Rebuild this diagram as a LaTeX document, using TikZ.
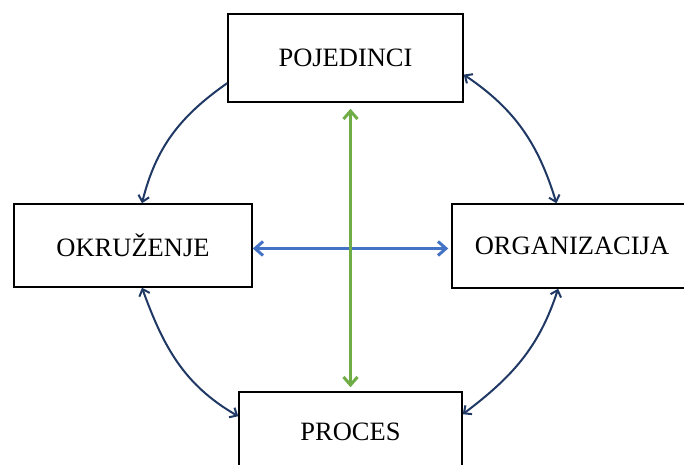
\documentclass[tikz,border=0pt]{standalone}
\usepackage{fontspec}
\setmainfont{Liberation Serif}
\usetikzlibrary{arrows.meta}
\definecolor{navy}{RGB}{31,56,100}
\definecolor{midblue}{RGB}{68,114,196}
\definecolor{leafgreen}{RGB}{112,173,71}
\tikzset{
    box/.style={draw, line width=1.5pt, inner sep=0pt},
    cyc/.style={navy, line width=2pt, >={Straight Barb[length=6pt,width=11pt]}},
    cross/.style={line width=3pt, >={Straight Barb[length=8pt,width=14pt]}},
}
\begin{document}
\begin{tikzpicture}[x=1pt,y=1pt,font=\fontsize{26.5}{30}\selectfont]
            \useasboundingbox (0,0) rectangle (684,464);
            \node[box,minimum width=235pt,minimum height=88pt] (pojedinci) at (345.5,406) {POJEDINCI};
            \node[box,minimum width=238pt,minimum height=83pt] (okruzenje) at (133,218.5) {OKRUŽENJE};
            \node[box,minimum width=240pt,minimum height=84pt] (organizacija) at (572,218) {ORGANIZACIJA};
            \node[box,minimum width=223pt,minimum height=80pt] (proces) at (350.5,32) {PROCES};
            % krug
            \draw[cyc,->] (pojedinci.192) to[out=215,in=76] (okruzenje.78);
            \draw[cyc,<->] (pojedinci.352) to[out=-34,in=107] (organizacija.110);
            \draw[cyc,<->] (okruzenje.282) to[out=-70,in=150] (proces.172);
            \draw[cyc,<->] (organizacija.252) to[out=252,in=37] (proces.9);
            % sredina
            \draw[midblue,cross,<->,shorten >=3pt] ([yshift=-3pt]okruzenje.east) -- ([yshift=-3pt]okruzenje.east -| organizacija.west);
            \draw[leafgreen,cross,<->,shorten <=4pt,shorten >=6pt] (proces.north) -- (proces.north |- pojedinci.south);
        \end{tikzpicture}
\end{document}
